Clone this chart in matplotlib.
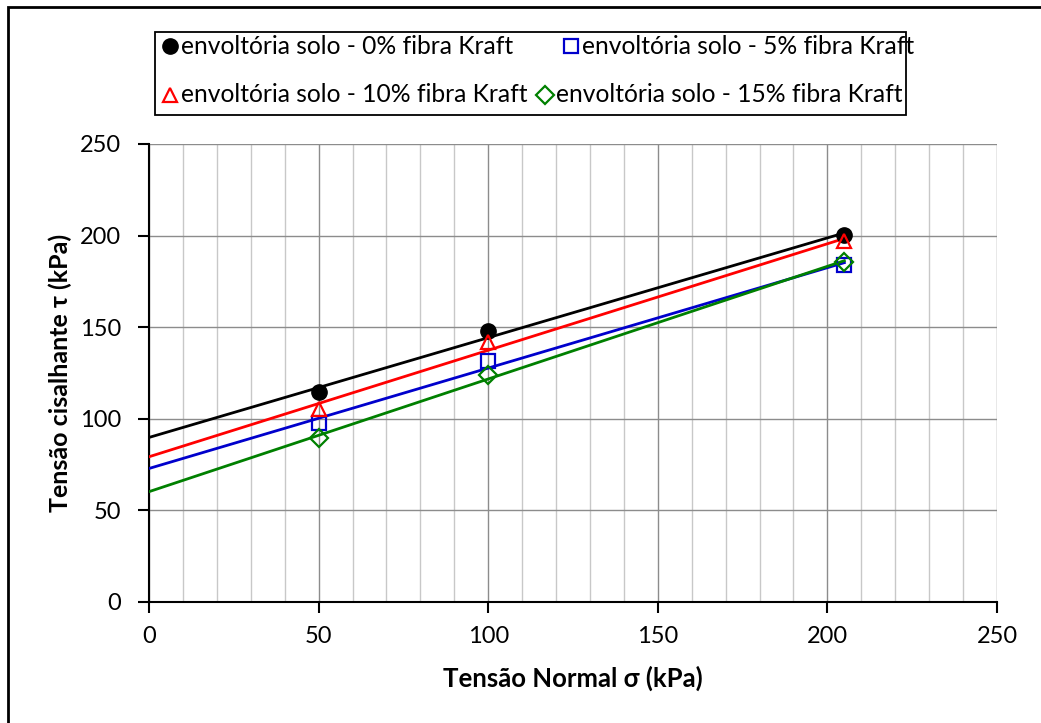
import numpy as np
import matplotlib
matplotlib.use("Agg")
import matplotlib.pyplot as plt
from matplotlib.lines import Line2D
from matplotlib.patches import Rectangle

plt.rcParams['font.family'] = ['Lato', 'DejaVu Sans']

sigma = [50, 100, 205]
tau_0 = [114.6, 147.9, 200.3]
tau_5 = [97.7, 131.5, 184.0]
tau_10 = [105.3, 141.9, 197.0]
tau_15 = [89.5, 123.9, 185.6]

labels = ["envoltória solo - 0% fibra Kraft", "envoltória solo - 5% fibra Kraft",
          "envoltória solo - 10% fibra Kraft", "envoltória solo - 15% fibra Kraft"]
colors = ["black", "#0000cc", "red", "green"]
markers = ["o", "s", "^", "D"]
series = [tau_0, tau_5, tau_10, tau_15]

W, H = 1041, 723
fig = plt.figure(figsize=(W/100, H/100), dpi=100)
ax = fig.add_axes([149/W, 1-602/H, (997-149)/W, (602-144)/H])

xfit = np.array([0, 205])
for y, c in zip(series, colors):
    p = np.polyfit(sigma, y, 1)
    ax.plot(xfit, np.polyval(p, xfit), color=c, lw=2.0, zorder=3)

styles = []
for y, c, m in zip(series, colors, markers):
    if m == "o":
        kw = dict(markerfacecolor=c, markeredgecolor=c, markersize=11)
    elif m == "D":
        kw = dict(markerfacecolor="none", markeredgecolor=c, markersize=9, markeredgewidth=1.6)
    else:
        kw = dict(markerfacecolor="none", markeredgecolor=c, markersize=10, markeredgewidth=1.6)
    ax.plot(sigma, y, linestyle="none", marker=m, zorder=4, **kw)
    styles.append(kw)

ax.set_xlim(0, 250)
ax.set_ylim(0, 250)
ax.set_xticks(np.arange(0, 251, 50))
ax.set_yticks(np.arange(0, 251, 50))
ax.set_xticks(np.arange(0, 251, 10), minor=True)
ax.grid(which="minor", axis="x", color="#c8c8c8", lw=1.0)
ax.grid(which="major", axis="both", color="#8c8c8c", lw=1.0)
ax.set_axisbelow(True)
ax.tick_params(which="major", direction="out", length=8, width=1.5, labelsize=17)
ax.tick_params(which="minor", length=0)
ax.tick_params(axis="x", pad=9)
ax.tick_params(axis="y", pad=12)
for s in ["top", "right"]:
    ax.spines[s].set_visible(False)
for s in ["left", "bottom"]:
    ax.spines[s].set_linewidth(1.5)

ax.set_xlabel("Tensão Normal σ (kPa)", fontsize=18.5, fontweight="bold", labelpad=14)
ax.set_ylabel("Tensão cisalhante τ (kPa)", fontsize=18, fontweight="bold", labelpad=6)

# legend (Excel-like row packing)
legend_pos = [(170, 181, 46), (571, 582, 46), (170, 181, 95), (545, 556, 95)]
for i, (mx, tx, yy) in enumerate(legend_pos):
    fig.add_artist(Line2D([mx/W], [1-yy/H], transform=fig.transFigure,
                          linestyle="none", marker=markers[i], **styles[i]))
    fig.text(tx/W, 1-yy/H, labels[i], fontsize=17.7, va="center", ha="left")
fig.patches.append(Rectangle((155/W, 1-115/H), (906-155)/W, (115-32)/H,
                             transform=fig.transFigure, fill=False,
                             edgecolor="black", lw=1.3))

fig.patches.append(Rectangle((8/W, -0.05), 1.2, 1 - 7/H + 0.05, transform=fig.transFigure,
                             fill=False, edgecolor="black", lw=2.0))

fig.savefig("out.png", dpi=100)
